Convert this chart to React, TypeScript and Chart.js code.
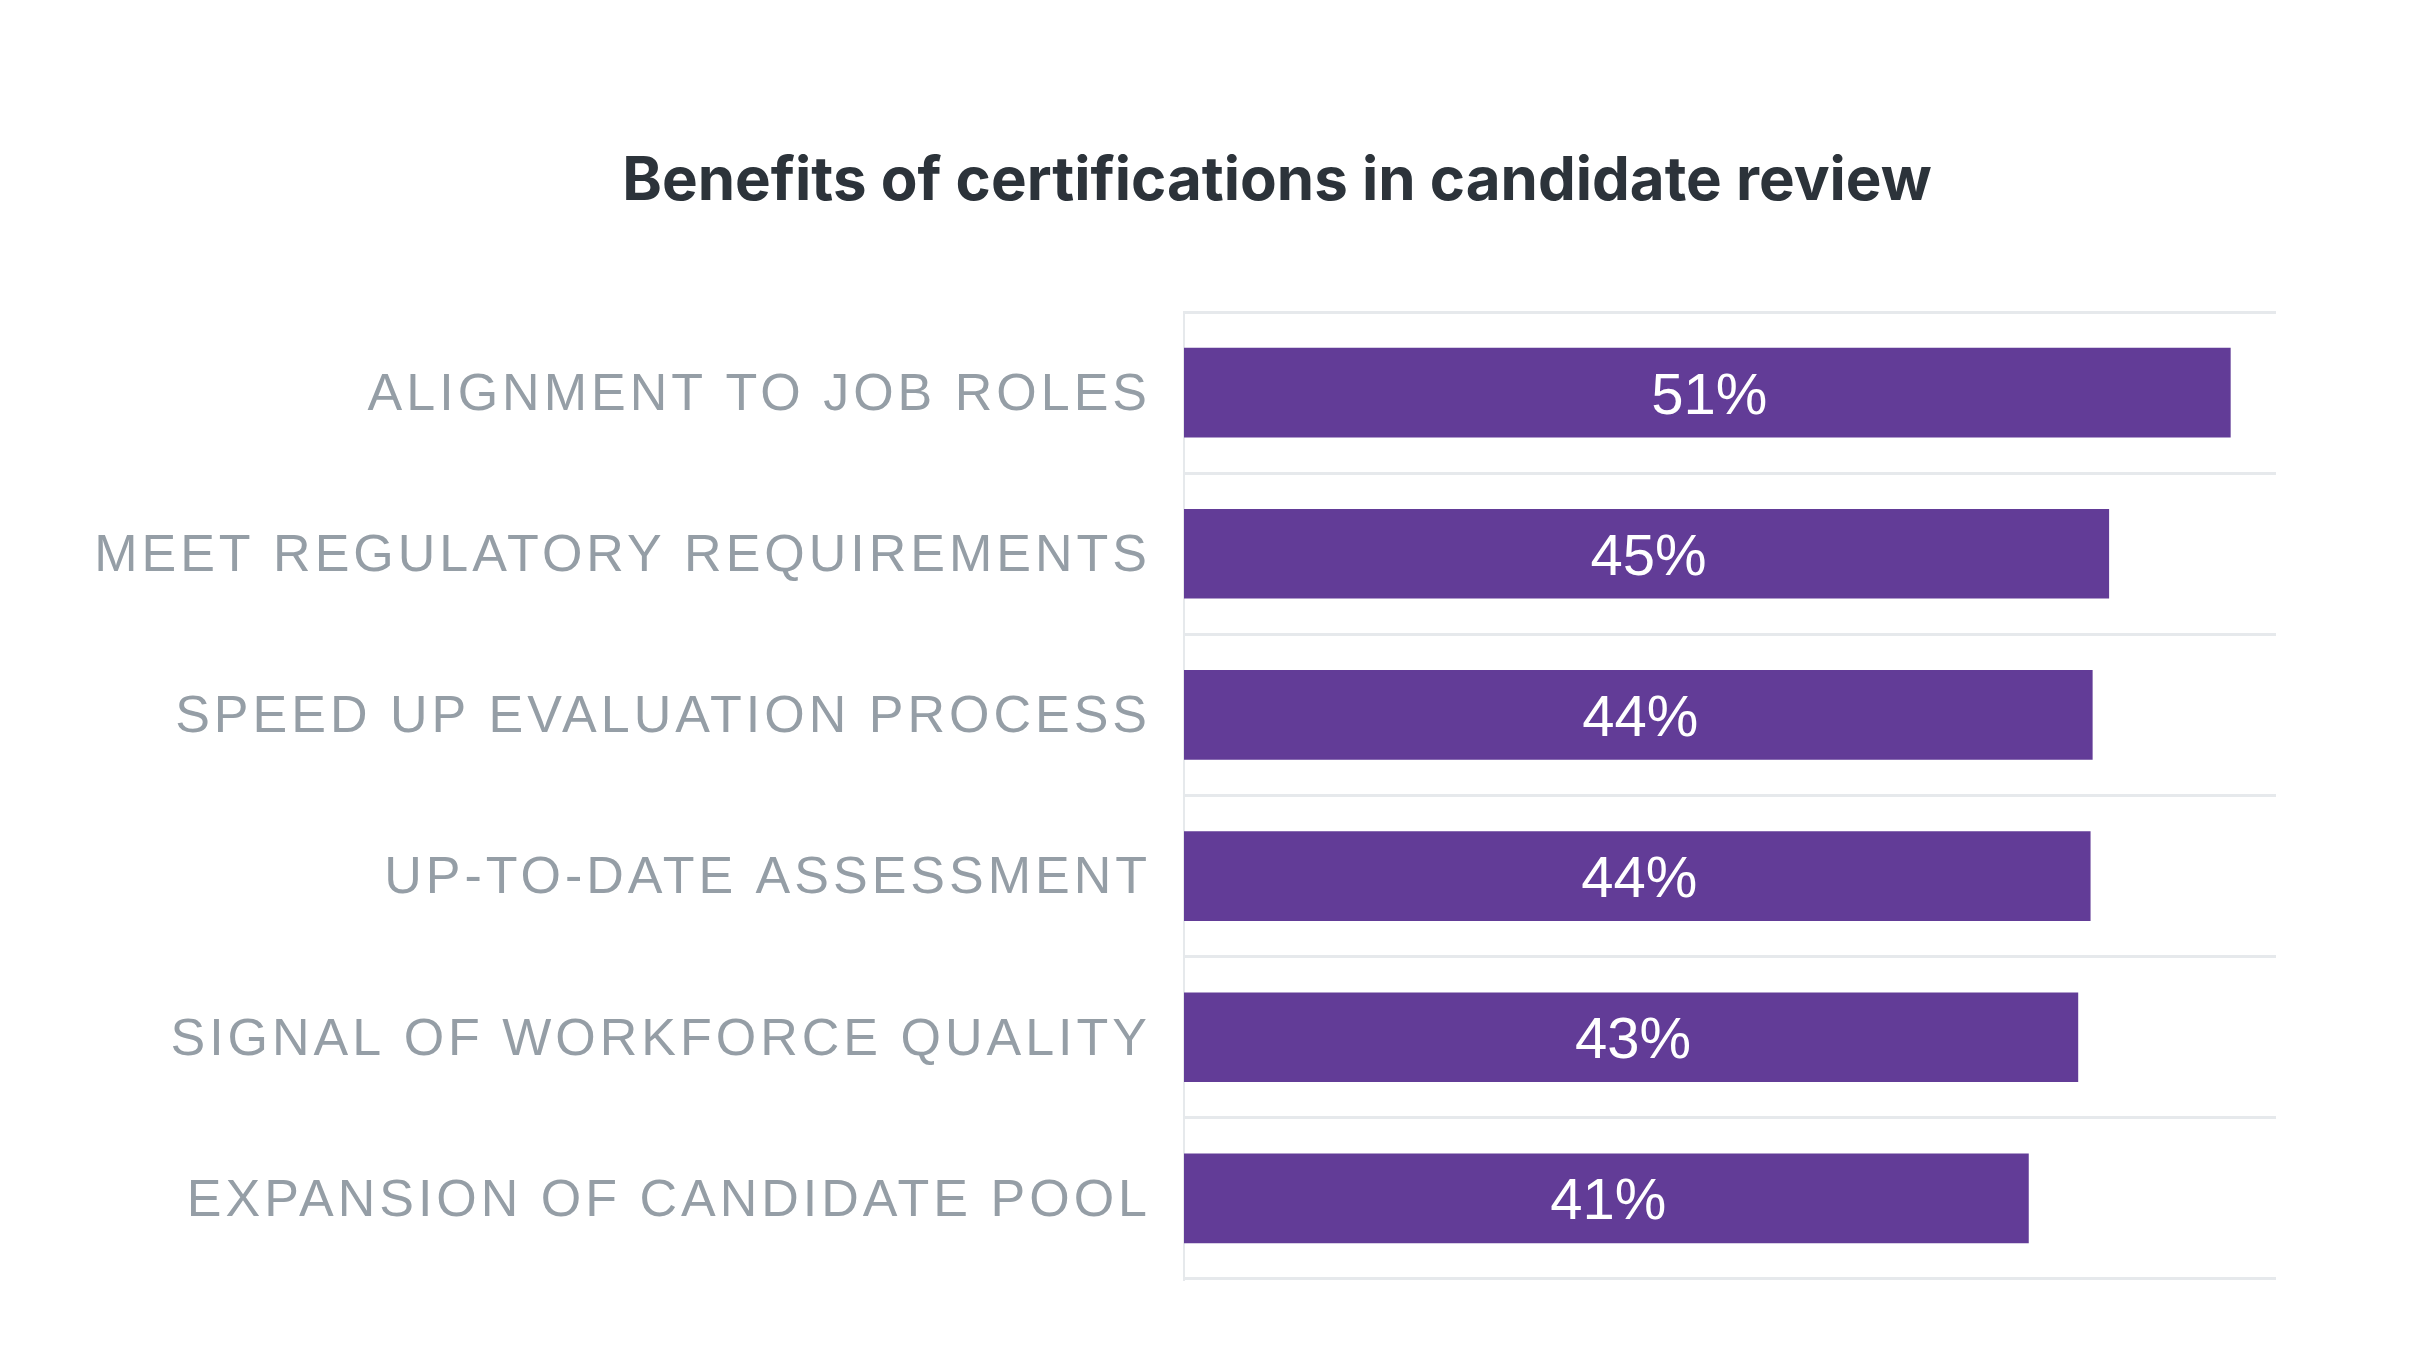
import React, { useEffect, useRef } from 'react';
import { Chart, registerables } from 'chart.js';

Chart.register(...registerables);

const chartTitle = 'Benefits of certifications in candidate review';
const categories = [
  'ALIGNMENT TO JOB ROLES',
  'MEET REGULATORY REQUIREMENTS',
  'SPEED UP EVALUATION PROCESS',
  'UP-TO-DATE ASSESSMENT',
  'SIGNAL OF WORKFORCE QUALITY',
  'EXPANSION OF CANDIDATE POOL',
];
const values = [50.8, 44.9, 44.1, 44.0, 43.4, 41.0];
const valueLabels = ['51%', '45%', '44%', '44%', '43%', '41%'];
const axisMin = 0;
const axisMax = 53;

const TITLE_SHIFT = 139;
const LABEL_SPACING = '4px';

const layoutTweaks = {
  id: 'layoutTweaks',
  afterLayout(chart: any) {
    const t = chart.titleBlock;
    if (t) {
      t.left += TITLE_SHIFT;
      t.right += TITLE_SHIFT;
    }
    const y = chart.scales.y;
    if (y && !y.__spaced) {
      const orig = y.drawLabels.bind(y);
      y.drawLabels = (area: any) => {
        const ctx = chart.ctx;
        ctx.save();
        ctx.translate(0, 3);
        ctx.letterSpacing = LABEL_SPACING;
        orig(area);
        ctx.letterSpacing = '0px';
        ctx.restore();
      };
      y.__spaced = true;
    }
  },
};

const valueLabelPlugin = {
  id: 'valueLabels',
  afterDatasetsDraw(chart: any) {
    const ctx = chart.ctx;
    const meta = chart.getDatasetMeta(0);
    ctx.save();
    ctx.letterSpacing = '0px';
    ctx.font = '58px "Liberation Sans"';
    ctx.fillStyle = '#ffffff';
    ctx.textAlign = 'center';
    ctx.textBaseline = 'middle';
    meta.data.forEach((bar: any, i: number) => {
      const { x, y, base } = bar.getProps(['x', 'y', 'base'], true);
      ctx.fillText(valueLabels[i], (x + base) / 2 + 2, y + 5);
    });
    ctx.restore();
  },
};

export default function App() {
  const ref = useRef<HTMLCanvasElement>(null);

  useEffect(() => {
    document.body.style.margin = '0';
    const chart = new Chart(ref.current as HTMLCanvasElement, {
      type: 'bar',
      data: {
        labels: categories,
        datasets: [
          {
            data: values,
            backgroundColor: '#623c97',
            borderWidth: 0,
            barPercentage: 1,
            categoryPercentage: 0.556,
          },
        ],
      },
      options: {
        indexAxis: 'y',
        animation: false,
        responsive: false,
        layout: { padding: { left: 0, right: 148, top: 0, bottom: 82 } },
        plugins: {
          legend: { display: false },
          tooltip: { enabled: false },
          title: {
            display: true,
            text: chartTitle,
            color: '#2c333a',
            font: { family: 'Inter', size: 60, weight: 'bold' },
            padding: { top: 146, bottom: 94 },
          },
        },
        scales: {
          x: { display: false, min: axisMin, max: axisMax },
          y: {
            grid: { color: '#e6e9ec', lineWidth: 3, drawTicks: false, offset: true },
            border: { display: true, color: '#e6e9ec', width: 2 },
            ticks: {
              color: '#959ea6',
              font: { family: 'Liberation Sans', size: 52 },
              padding: 33,
              autoSkip: false,
            },
            afterFit(scale: any) {
              scale.width = 1184;
            },
          },
        },
      } as any,
      plugins: [layoutTweaks, valueLabelPlugin],
    });
    return () => chart.destroy();
  }, []);

  return (
    <div style={{ width: 2424, height: 1361, background: '#ffffff' }}>
      <canvas ref={ref} width={2424} height={1361} style={{ display: 'block', width: 2424, height: 1361 }} />
    </div>
  );
}
